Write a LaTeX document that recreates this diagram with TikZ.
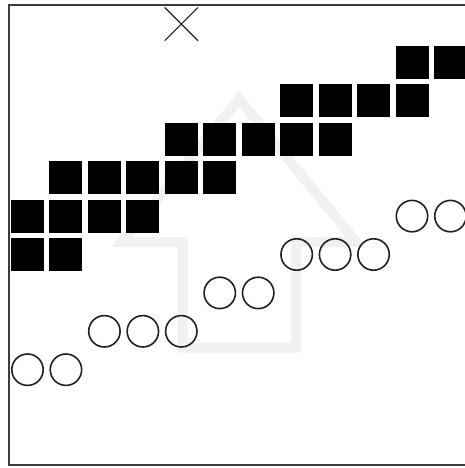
\documentclass[tikz,border=0pt]{standalone}
\usetikzlibrary{shapes.misc}
\definecolor{framegray}{RGB}{60,60,60}
\definecolor{ringgray}{RGB}{35,31,32}
\definecolor{arrowgray}{RGB}{240,241,243}
\tikzset{
    blk/.style={rectangle,fill=black,inner sep=0pt,minimum size=33pt},
    ring/.style={circle,draw=ringgray,line width=1.6pt,inner sep=0pt,minimum size=31.4pt},
    mark x/.style={cross out,draw=ringgray,line width=1.2pt,inner sep=0pt,minimum size=32pt}
}
\begin{document}
\begin{tikzpicture}[x=1pt,y=-1pt]
    \useasboundingbox (0,0) rectangle (465,468);
    \draw[arrowgray,line width=10pt,line join=miter]
        (239,99) -- (356,242) -- (296,242) -- (296,347.5) -- (182.5,347.5) -- (182.5,242) -- (122,242) -- cycle;
    \draw[framegray,line width=2pt] (465,5) -- (9,5) -- (9,465) -- (465,465);

    \begin{scope}[shift={(27.5,62.5)},x=38.45pt,y=-38.4pt]
    \node[mark x] (x) at (4,-1) {};

    \node[blk] (s1) at (10,0) {};
    \node[blk] (s2) at (11,0) {};
    \node[blk] (s3) at (7,1) {};
    \node[blk] (s4) at (8,1) {};
    \node[blk] (s5) at (9,1) {};
    \node[blk] (s6) at (10,1) {};
    \node[blk] (s7) at (4,2) {};
    \node[blk] (s8) at (5,2) {};
    \node[blk] (s9) at (6,2) {};
    \node[blk] (s10) at (7,2) {};
    \node[blk] (s11) at (8,2) {};
    \node[blk] (s12) at (1,3) {};
    \node[blk] (s13) at (2,3) {};
    \node[blk] (s14) at (3,3) {};
    \node[blk] (s15) at (4,3) {};
    \node[blk] (s16) at (5,3) {};
    \node[blk] (s17) at (0,4) {};
    \node[blk] (s18) at (1,4) {};
    \node[blk] (s19) at (2,4) {};
    \node[blk] (s20) at (3,4) {};
    \node[blk] (s21) at (0,5) {};
    \node[blk] (s22) at (1,5) {};

    \node[ring] (c1) at (10,4) {};
    \node[ring] (c2) at (11,4) {};
    \node[ring] (c3) at (7,5) {};
    \node[ring] (c4) at (8,5) {};
    \node[ring] (c5) at (9,5) {};
    \node[ring] (c6) at (5,6) {};
    \node[ring] (c7) at (6,6) {};
    \node[ring] (c8) at (2,7) {};
    \node[ring] (c9) at (3,7) {};
    \node[ring] (c10) at (4,7) {};
    \node[ring] (c11) at (0,8) {};
    \node[ring] (c12) at (1,8) {};
    \end{scope}
\end{tikzpicture}
\end{document}
